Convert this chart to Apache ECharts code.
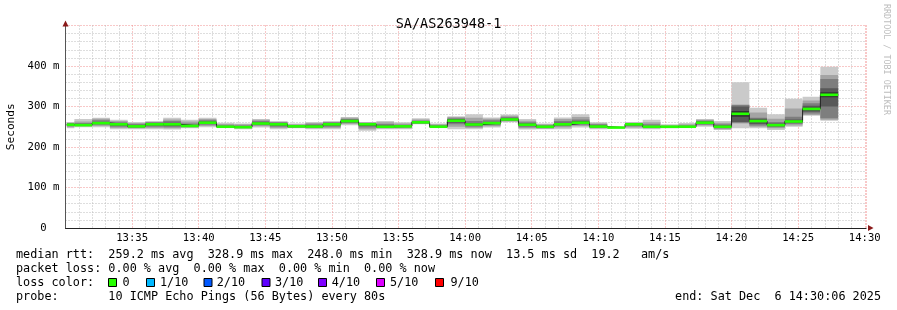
<!DOCTYPE html>
<html>
<head>
<meta charset="utf-8">
<script src="https://cdn.jsdelivr.net/npm/echarts@6.0.0/dist/echarts.min.js"></script>
<style>
html,body{margin:0;padding:0;background:#fff;}
#chart{width:897px;height:310px;}
</style>
</head>
<body>
<div id="chart"></div>
<script>
// ---- data (ms) ----
const titleText = 'SA/AS263948-1';
const chartStart = '13:30:06';
const chartEnd = '14:30:06';
const xTickLabels = ['13:35','13:40','13:45','13:50','13:55','14:00','14:05','14:10','14:15','14:20','14:25','14:30'];
const yTickLabels = ['0  ','100 m','200 m','300 m','400 m'];
const stepEnds = ['13:30:40','13:32:00','13:33:20','13:34:40','13:36:00','13:37:20','13:38:40','13:40:00','13:41:20','13:42:40',
  '13:44:00','13:45:20','13:46:40','13:48:00','13:49:20','13:50:40','13:52:00','13:53:20','13:54:40','13:56:00',
  '13:57:20','13:58:40','14:00:00','14:01:20','14:02:40','14:04:00','14:05:20','14:06:40','14:08:00','14:09:20',
  '14:10:40','14:12:00','14:13:20','14:14:40','14:16:00','14:17:20','14:18:40','14:20:00','14:21:20','14:22:40',
  '14:24:00','14:25:20','14:26:40','14:28:00'];
const medians = [255,254,259,256,251,256,256,252,260,250,
  249,258,256,251,250.5,256,264,256,250,251,
  261,250,265,255.5,259,268,255,250,256,260,
  250.5,248,256,250,250,250,260,250,282,264,
  254,263,294,328.9];
const pings = [
  [246,249,251,253,254,256,257,259,260,262],
  [249,251,252,253,254,254,256,259,263,269],
  [249,252,255,257,258,260,262,266,270,272],
  [244,247,250,253,255,257,259,261,264,267],
  [244,246,248,249,250,252,254,257,259,262],
  [244,247,250,253,255,257,259,261,262,264],
  [243,246,249,252,255,257,260,264,268,272],
  [246,248,250,251,252,252,254,258,263,267],
  [249,252,255,257,259,261,263,266,269,272],
  [249,249,250,250,250,250,252,254,257,260],
  [244,246,247,248,249,249,251,253,256,258],
  [248,251,254,256,257,259,261,264,267,269],
  [244,247,250,253,255,257,259,261,262,264],
  [246,247,248,250,251,251,252,254,256,258],
  [244,246,248,249,250,251,253,256,259,262],
  [244,247,250,253,255,257,259,261,262,264],
  [254,257,259,261,263,265,267,269,272,274],
  [240,244,248,252,255,257,258,259,261,262],
  [244,246,247,249,250,250,253,257,261,264],
  [244,246,248,250,251,251,253,255,258,261],
  [256,257,258,260,261,261,263,265,268,271],
  [248,248,249,249,250,250,252,254,256,258],
  [244,250,256,260,263,267,269,271,274,276],
  [244,247,250,253,255,256,259,264,272,281],
  [248,251,254,257,258,260,262,266,270,273],
  [261,263,265,266,267,269,271,274,277,280],
  [243,246,249,252,254,256,258,261,265,269],
  [244,245,247,249,250,250,252,254,256,258],
  [244,248,251,254,255,257,260,264,269,273],
  [248,252,255,258,259,261,264,268,274,281],
  [244,246,248,249,250,251,253,256,258,261],
  [247,247,248,248,248,248,248,248,249,249],
  [245,248,251,254,255,257,258,259,260,262],
  [244,246,248,249,250,250,252,256,261,267],
  [246,247,248,249,250,250,251,252,254,256],
  [247,248,248,249,250,250,251,253,256,259],
  [250,253,255,258,259,261,263,265,267,269],
  [242,244,246,248,249,251,253,256,260,264],
  [246,258,260,262,275,289,300,304,305,360],
  [246,250,253,257,262,266,270,272,285,297],
  [242,246,249,251,253,255,258,262,270,281],
  [250,253,257,260,262,264,268,275,295,319],
  [277,279,283,287,291,297,302,308,315,324],
  [265,267,271,300,322.8,335,345,368,378,398]
];
const statsLine = 'median rtt:  259.2 ms avg  328.9 ms max  248.0 ms min  328.9 ms now  13.5 ms sd  19.2   am/s';
const lossLine = 'packet loss: 0.00 % avg  0.00 % max  0.00 % min  0.00 % now';
const lossLabels = ['0','1/10','2/10','3/10','4/10','5/10','9/10'];
const lossColors = ['#26ff00','#00b8ff','#0059ff','#5e00ff','#7e00ff','#dd00ff','#ff0000'];
const probeLine = 'probe:       10 ICMP Echo Pings (56 Bytes) every 80s';
const endLine = 'end: Sat Dec  6 14:30:06 2025';
const vendorText = 'RRDTOOL / TOBI OETIKER';

// ---- styling ----
const MONO = "'DejaVu Sans Mono', 'Liberation Mono', monospace";
const smokeColors = ['#cacaca','#a4a4a4','#7e7e7e','#585858','#323232'];

function toMin(s){ const p = s.split(':').map(Number); return (p[0]-13)*60 + (p[1]-30) + p[2]/60; }
const xMin = 0, xMax = toMin(chartEnd);
const starts = stepEnds.map((e,i) => i === 0 ? toMin(chartStart) : toMin(stepEnds[i-1]));
const ends = stepEnds.map(toMin);

const smokeData = pings.map((p,i) => [starts[i], ends[i]].concat(p));
const medData = medians.map((m,i) => [starts[i], ends[i], m]);
const lineData = [];
medians.forEach((m,i) => { lineData.push([starts[i], m]); lineData.push([ends[i], m]); });

const chart = echarts.init(document.getElementById('chart'), null, {renderer:'canvas'});

const G = {left:65.5, top:25.5, width:800.6, height:202.5};

const graphics = [];
// axis arrows
graphics.push({type:'polygon', shape:{points:[[G.left-3,G.top+1],[G.left+3,G.top+1],[G.left,G.top-5]]}, style:{fill:'#8b1a1a'}, z:10});
graphics.push({type:'polygon', shape:{points:[[868,G.top+G.height-3],[868,G.top+G.height+3],[873.5,G.top+G.height]]}, style:{fill:'#8b1a1a'}, z:10});
// vendor text
graphics.push({type:'text', x:886, y:4, rotation:-Math.PI/2, style:{text:vendorText, fontFamily:MONO, fontSize:8.4, fill:'#bdbdbd', align:'left', verticalAlign:'middle'}});
// legend rows
const tStyle = (text, x, y, align) => ({type:'text', x:x, y:y, style:{text:text, fontFamily:MONO, fontSize:11.8, fill:'#000', align:align||'left', verticalAlign:'middle'}});
graphics.push(tStyle(statsLine, 16, 254.5));
graphics.push(tStyle(lossLine, 16, 268.5));
graphics.push(tStyle('loss color:', 16, 282.5));
const boxX = [108, 146, 203.5, 261.5, 318, 376, 435];
const labX = [122.5, 160, 216.7, 275, 331.7, 390, 450.5];
lossLabels.forEach((l,i) => {
  graphics.push({type:'rect', shape:{x:boxX[i]+0.5, y:278.5, width:8, height:8}, style:{fill:lossColors[i], stroke:'#000', lineWidth:1}});
  graphics.push(tStyle(l, labX[i], 282.5));
});
graphics.push(tStyle(probeLine, 16, 296.5));
graphics.push(tStyle(endLine, 881, 296.5, 'right'));

const option = {
  animation:false,
  backgroundColor:'#ffffff',
  title:{text:titleText, left:'center', top:12, textStyle:{fontFamily:MONO, fontSize:13.5, fontWeight:'normal', color:'#000'}},
  grid:{left:G.left, top:G.top, width:G.width, height:G.height, containLabel:false, outerBoundsMode:'none'},
  xAxis:{
    type:'value', min:xMin, max:xMax, interval:5,
    axisLine:{show:true, lineStyle:{color:'#222', width:1}},
    axisTick:{show:false},
    axisLabel:{fontFamily:MONO, fontSize:10.6, color:'#000', margin:5, showMinLabel:false,
      formatter:(v) => { const idx = Math.round(v/5) - 1; return (idx >= 0 && idx < xTickLabels.length && Math.abs(v - 5*(idx+1)) < 1e-6) ? xTickLabels[idx] : ''; }},
    splitLine:{show:true, lineStyle:{color:'#f09090', type:[1,2], width:1}},
    minorTick:{show:false, splitNumber:5},
    minorSplitLine:{show:true, lineStyle:{color:'#bdbdbd', type:[1,2], width:1}}
  },
  yAxis:{
    type:'value', min:0, max:500, interval:100,
    name:'Seconds', nameLocation:'middle', nameRotate:90, nameGap:47,
    nameTextStyle:{fontFamily:MONO, fontSize:11.2, color:'#000'},
    axisLine:{show:true, lineStyle:{color:'#555', width:1}},
    axisTick:{show:false},
    axisLabel:{fontFamily:MONO, fontSize:10.6, color:'#000', margin:6, showMaxLabel:false,
      formatter:(v) => { const idx = Math.round(v/100); return (idx < yTickLabels.length && Math.abs(v-idx*100)<1e-6) ? yTickLabels[idx] : ''; }},
    splitLine:{show:true, lineStyle:{color:'#f09090', type:[1,2], width:1}},
    minorTick:{show:false, splitNumber:5},
    minorSplitLine:{show:true, lineStyle:{color:'#bdbdbd', type:[1,2], width:1}}
  },
  series:[
    {
      type:'custom', name:'smoke', z:2, clip:true,
      data:smokeData,
      encode:{x:[0,1], y:[2,11]},
      renderItem:(params, api) => {
        const x0 = api.value(0), x1 = api.value(1);
        const children = [];
        for (let b = 0; b < 5; b++) {
          const lo = api.value(2+b), hi = api.value(11-b);
          const a = api.coord([x0, hi]), c = api.coord([x1, lo]);
          children.push({type:'rect', shape:{x:a[0], y:a[1], width:c[0]-a[0], height:Math.max(c[1]-a[1], 0.001)}, style:{fill:smokeColors[b]}});
        }
        return {type:'group', children:children};
      }
    },
    {
      type:'line', name:'median', z:3, data:lineData, showSymbol:false, symbol:'none',
      lineStyle:{color:'#202020', width:1}
    },
    {
      type:'custom', name:'median loss 0', z:4,
      data:medData,
      encode:{x:[0,1], y:2},
      renderItem:(params, api) => {
        const a = api.coord([api.value(0), api.value(2)]);
        const c = api.coord([api.value(1), api.value(2)]);
        return {type:'rect', shape:{x:a[0], y:a[1]-1.3, width:c[0]-a[0], height:2.6}, style:{fill:lossColors[0]}};
      }
    }
  ],
  graphic:graphics
};
chart.setOption(option);
</script>
</body>
</html>
